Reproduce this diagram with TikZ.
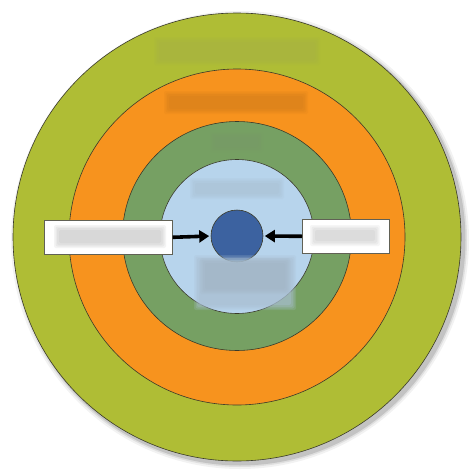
\documentclass[tikz,border=0pt]{standalone}
\usetikzlibrary{arrows.meta}
\definecolor{olivering}{HTML}{AFBD35}
\definecolor{orangering}{HTML}{F7931E}
\definecolor{greenring}{HTML}{76A063}
\definecolor{bluering}{HTML}{B7D4EC}
\definecolor{corecol}{HTML}{3C62A0}
\definecolor{edgecol}{HTML}{3A3A2A}
\newcommand\blurpatch[5]{%
  \foreach \d/\o in {4/0.2,2.5/0.25,1/0.3,-1/0.4}{%
    \fill[#5,opacity=\o,rounded corners=2pt] (#1-\d,#2-\d) rectangle (#3+\d,#4+\d);}}
\begin{document}
\begin{tikzpicture}[x=1pt,y=-1pt,
  ring/.style={circle,draw=edgecol,line width=0.6pt,inner sep=0pt},
  labelbox/.style={draw=edgecol!80,line width=0.6pt,fill=white,inner sep=0pt,anchor=north west},
  arr/.style={line width=3.6pt,-{Triangle[length=10pt,width=12pt]},shorten >=1.5pt}]
\useasboundingbox (0,0) rectangle (474,474);
\fill[white] (0,0) rectangle (474,474);
% shadow
\foreach \r/\o in {229/0.05,227/0.08,225.5/0.12}{\fill[black,opacity=\o] (240,240) circle (\r);}
\node[ring,fill=olivering,minimum size=448pt] (outer) at (237,237) {};
\node[ring,fill=orangering,minimum size=336pt] (orange) at (237,237) {};
\node[ring,fill=greenring,minimum size=229pt] (green) at (237,236) {};
\node[ring,fill=bluering,minimum size=154pt] (light) at (237,236.5) {};
\node[ring,fill=corecol,minimum size=52pt] (core) at (237,236) {};
% blurred labels
\blurpatch{158}{41}{316}{61}{olivering!85!gray}
\blurpatch{168}{95}{304}{110}{orangering!88!black}
\blurpatch{214}{136}{259}{148}{greenring!85!gray}
\blurpatch{194}{182}{280}{195}{bluering!80!gray}
\blurpatch{198}{259}{292}{306}{bluering!75!gray}
\blurpatch{204}{262}{286}{290}{bluering!65!gray}
% boxes
\node[labelbox,minimum width=128pt,minimum height=34pt] (lbox) at (44,220) {};
\node[labelbox,minimum width=87pt,minimum height=34pt] (rbox) at (302,219) {};
\blurpatch{58}{229}{162}{244}{gray!40}
\blurpatch{314}{229}{376}{242}{gray!35}
% arrows
\draw[arr] (lbox.east) -- (core.west);
\draw[arr] (rbox.west) -- (core.east);
\end{tikzpicture}
\end{document}
